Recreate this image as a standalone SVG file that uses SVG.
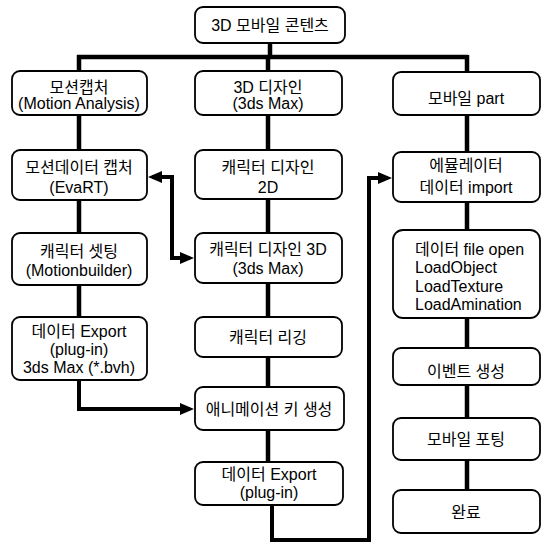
<svg xmlns="http://www.w3.org/2000/svg" width="544" height="545" viewBox="0 0 544 545">
<style>
.box{fill:#fff;stroke:#000;stroke-width:1.8}
.t{font-family:"Liberation Sans","Noto Sans CJK KR",sans-serif;font-size:16px;fill:#000;text-anchor:middle}
.l{text-anchor:start}
.c{fill:none;stroke:#000;stroke-width:4.5;stroke-linejoin:miter}
.a{fill:none;stroke:#000;stroke-width:4;stroke-linejoin:miter}
</style>
<defs>
<marker id="ah" viewBox="0 0 14 12" refX="10" refY="6" markerWidth="14" markerHeight="12" orient="auto" markerUnits="userSpaceOnUse">
<path d="M0,0 L14,6 L0,12 z" fill="#000"/>
</marker>
</defs>
<rect width="544" height="545" fill="#fff"/>
<g id="connectors">
<path class="c" d="M270,43 V57 M77,57 H468 M79,55 V72 M268,57 V72 M467,55 V72"/>
<path class="c" d="M79,115 V150 M79,200 V233 M79,285 V317"/>
<path class="c" d="M268,115 V150 M268,200 V233 M268,283 V317 M268,357 V387 M268,430 V462"/>
<path class="c" d="M467,115 V152 M467,202 V230 M467,318 V348 M467,385 V418 M467,460 V490"/>
<path class="a" d="M172,176 V258 H190" marker-end="url(#ah)"/>
<path class="a" d="M174,177 H152" marker-end="url(#ah)"/>
<path class="a" d="M79,380 V409 H190" marker-end="url(#ah)"/>
<path class="a" d="M272,505 V540 H369 V178 H388" marker-end="url(#ah)"/>
</g>
<g id="n0"><rect class="box" x="195" y="7" width="150" height="36" rx="8"/><text class="t" x="270" y="31">3D 모바일 콘텐츠</text></g>
<g id="n1"><rect class="box" x="12" y="71" width="135" height="44" rx="8"/><text class="t" x="79" y="93">모션캡처</text><text class="t" x="79" y="109">(Motion Analysis)</text></g>
<g id="n2"><rect class="box" x="195" y="71" width="147" height="44" rx="8"/><text class="t" x="268" y="93">3D 디자인</text><text class="t" x="268" y="109">(3ds Max)</text></g>
<g id="n3"><rect class="box" x="393" y="72" width="147" height="43" rx="8"/><text class="t" x="466" y="104">모바일 part</text></g>
<g id="n4"><rect class="box" x="12" y="150" width="135" height="50" rx="8"/><text class="t" x="79" y="173">모션데이터 캡처</text><text class="t" x="79" y="193">(EvaRT)</text></g>
<g id="n5"><rect class="box" x="195" y="150" width="147" height="49" rx="8"/><text class="t" x="268" y="173">캐릭터 디자인</text><text class="t" x="268" y="193">2D</text></g>
<g id="n6"><rect class="box" x="393" y="152" width="147" height="50" rx="8"/><text class="t" x="466" y="171">에뮬레이터</text><text class="t" x="466" y="193">데이터 import</text></g>
<g id="n7"><rect class="box" x="12" y="233" width="135" height="52" rx="8"/><text class="t" x="79" y="257">캐릭터 셋팅</text><text class="t" x="79" y="276">(Motionbuilder)</text></g>
<g id="n8"><rect class="box" x="195" y="233" width="147" height="50" rx="8"/><text class="t" x="268" y="255">캐릭터 디자인 3D</text><text class="t" x="268" y="274">(3ds Max)</text></g>
<g id="n9"><rect class="box" x="393" y="230" width="147" height="88" rx="10"/><text class="t l" x="415" y="255">데이터 file open</text><text class="t l" x="415" y="273">LoadObject</text><text class="t l" x="415" y="292">LoadTexture</text><text class="t l" x="415" y="310">LoadAmination</text></g>
<g id="n10"><rect class="box" x="12" y="317" width="135" height="63" rx="8"/><text class="t" x="79" y="337">데이터 Export</text><text class="t" x="79" y="355">(plug-in)</text><text class="t" x="79" y="373">3ds Max (*.bvh)</text></g>
<g id="n11"><rect class="box" x="195" y="317" width="147" height="40" rx="8"/><text class="t" x="268" y="343">캐릭터 리깅</text></g>
<g id="n12"><rect class="box" x="393" y="348" width="147" height="37" rx="8"/><text class="t" x="466" y="377">이벤트 생성</text></g>
<g id="n13"><rect class="box" x="195" y="387" width="149" height="43" rx="8"/><text class="t" x="269" y="415">애니메이션 키 생성</text></g>
<g id="n14"><rect class="box" x="393" y="418" width="147" height="42" rx="8"/><text class="t" x="466" y="445">모바일 포팅</text></g>
<g id="n15"><rect class="box" x="195" y="462" width="148" height="43" rx="8"/><text class="t" x="269" y="480">데이터 Export</text><text class="t" x="269" y="498">(plug-in)</text></g>
<g id="n16"><rect class="box" x="393" y="490" width="147" height="43" rx="8"/><text class="t" x="466" y="518">완료</text></g>
</svg>
